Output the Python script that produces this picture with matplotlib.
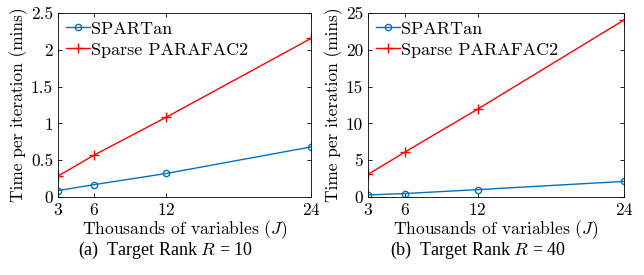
#!/usr/bin/env python3

"""
plot.py

Time per iteration of SPARTan vs Sparse PARAFAC2 for two target ranks
"""

import matplotlib
matplotlib.use('Agg')
import matplotlib.pyplot as plt
from matplotlib.ticker import FormatStrFormatter

plt.rcParams['font.family'] = 'cmr10'
plt.rcParams['mathtext.fontset'] = 'cm'
plt.rcParams['axes.formatter.use_mathtext'] = True

# thousands of variables J
variables = [3, 6, 12, 24]

# target rank R = 10
spartan_r10 = [0.087, 0.168, 0.32, 0.68]
sparse_r10 = [0.285, 0.57, 1.085, 2.155]

# target rank R = 40
spartan_r40 = [0.28, 0.47, 1.0, 2.12]
sparse_r40 = [3.07, 6.08, 11.95, 24.05]

captions = ['(a)  Target Rank $R$ = 10', '(b)  Target Rank $R$ = 40']
y_limits = [(0, 2.5, 0.5), (0, 25, 5)]

blue = '#0072BD'
red = '#FF0000'

fig = plt.figure(figsize=(6.44, 2.75), dpi=100)
ax1 = fig.add_axes([58 / 644, 1 - 197 / 275, 253 / 644, 184 / 275])
ax2 = fig.add_axes([368 / 644, 1 - 197 / 275, 256 / 644, 184 / 275])

panels = [(ax1, spartan_r10, sparse_r10), (ax2, spartan_r40, sparse_r40)]
for i, (ax, spartan, sparse) in enumerate(panels):
    ax.plot(variables, spartan, '-o', color=blue, lw=1.0, ms=4.5,
            mfc='none', mew=1.0, label='SPARTan')
    ax.plot(variables, sparse, '-+', color=red, lw=1.0, ms=7,
            mew=1.0, label='Sparse PARAFAC2')
    lo, hi, step = y_limits[i]
    ax.set_xlim(3, 24)
    ax.set_ylim(lo, hi)
    ax.set_xticks(variables)
    ax.set_yticks([lo + k * step for k in range(6)])
    ax.yaxis.set_major_formatter(FormatStrFormatter('%g'))
    ax.tick_params(direction='in', top=True, right=True, labelsize=12.5,
                   length=3, width=0.6, pad=3.5)
    for spine in ax.spines.values():
        spine.set_linewidth(0.6)
    ax.set_xlabel('Thousands of variables ($J$)', fontsize=12.6, labelpad=0.5)
    ax.set_ylabel('Time per iteration (mins)', fontsize=12.5, labelpad=2)
    ax.legend(loc='upper left', frameon=False, fontsize=13, handlelength=1.3,
              handletextpad=0.1, borderaxespad=0.15, labelspacing=0.3,
              borderpad=0.3)

fig.text(166 / 644, 1 - 250 / 275, captions[0], ha='center', va='center',
         fontsize=13, family='Liberation Serif')
fig.text(478 / 644, 1 - 250 / 275, captions[1], ha='center', va='center',
         fontsize=13, family='Liberation Serif')

fig.savefig('out.png', dpi=100)
